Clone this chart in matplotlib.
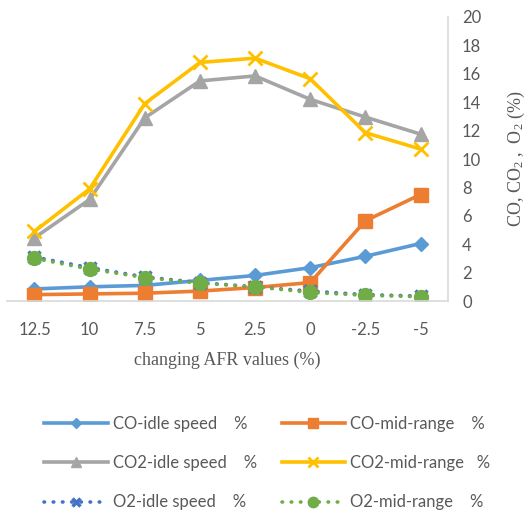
import numpy as np
import matplotlib
matplotlib.use("Agg")
import matplotlib.pyplot as plt

plt.rcParams['mathtext.fontset'] = 'custom'
plt.rcParams['mathtext.rm'] = 'Liberation Serif'
plt.rcParams['mathtext.it'] = 'Liberation Serif:italic'

# AFR change categories (%)
afr_labels = ["12.5", "10", "7.5", "5", "2.5", "0", "-2.5", "-5"]

co_idle = [0.85, 1.0, 1.1, 1.45, 1.8, 2.35, 3.15, 4.05]
co_mid = [0.45, 0.5, 0.55, 0.7, 0.95, 1.3, 5.65, 7.5]
co2_idle = [4.45, 7.15, 12.9, 15.5, 15.85, 14.2, 12.95, 11.75]
co2_mid = [4.9, 7.9, 13.9, 16.8, 17.1, 15.65, 11.85, 10.7]
o2_idle = [3.1, 2.35, 1.7, 1.3, 1.0, 0.7, 0.45, 0.35]
o2_mid = [3.0, 2.25, 1.65, 1.25, 1.0, 0.6, 0.4, 0.3]

txt_gray = "#595959"
axis_gray = "#D9D9D9"
tick_font = "Lato"
dots = (0, (0.15, 2.4))

fig = plt.figure(figsize=(5.31, 5.15), dpi=100)
ax = fig.add_axes([0.013, 0.4155, 0.831, 0.5515])

x = np.arange(len(afr_labels))

ax.plot(x, co_idle, color="#5B9BD5", lw=2.6, marker="D", ms=7,
        label="CO-idle speed    %")
ax.plot(x, co_mid, color="#ED7D31", lw=2.6, marker="s", ms=10,
        label="CO-mid-range    %")
ax.plot(x, co2_idle, color="#A5A5A5", lw=2.6, marker="^", ms=10,
        label="CO2-idle speed    %")
ax.plot(x, co2_mid, color="#FFC000", lw=2.6, marker="x", ms=10, mew=2,
        label="CO2-mid-range   %")
ax.plot(x, o2_idle, color="#4472C4", lw=2.6, ls=dots,
        dash_capstyle="round", marker="x", ms=8, mew=2.5,
        label="O2-idle speed    %")
ax.plot(x, o2_mid, color="#70AD47", lw=2.6, ls=dots,
        dash_capstyle="round", marker="o", ms=10,
        label="O2-mid-range    %")

ax.set_xlim(-0.5, 7.5)
ax.set_ylim(0, 20)
ax.set_yticks(np.arange(0, 21, 2))
ax.set_xticks(x)
ax.set_xticklabels(afr_labels, fontsize=12, color=txt_gray, family=tick_font)
ax.yaxis.tick_right()
ax.yaxis.set_label_position("right")
for lbl in ax.get_yticklabels():
    lbl.set_fontsize(12)
    lbl.set_color(txt_gray)
    lbl.set_family(tick_font)
ax.tick_params(axis="both", length=0)
ax.tick_params(axis="x", pad=15)
ax.tick_params(axis="y", pad=10)

for side in ["top", "left"]:
    ax.spines[side].set_visible(False)
ax.spines["right"].set_color(axis_gray)
ax.spines["bottom"].set_color(axis_gray)
ax.spines["right"].set_linewidth(1.2)
ax.spines["bottom"].set_linewidth(1.2)

ax.set_ylabel("CO, CO$_2$ ,  O$_2$ (%)", family="Liberation Serif",
              fontsize=13, color=txt_gray, labelpad=18)
ax.set_xlabel("changing AFR values (%)", family="Liberation Serif",
              fontsize=13, color=txt_gray, labelpad=10)

# legend: two columns, filled column by column
h, l = ax.get_legend_handles_labels()
order = [0, 2, 4, 1, 3, 5]
leg = fig.legend([h[i] for i in order], [l[i] for i in order],
                 ncol=2, loc="upper left", bbox_to_anchor=(0.055, 0.222),
                 frameon=False, handlelength=3.8, handletextpad=0.3,
                 columnspacing=1.5, labelspacing=1.4, markerscale=0.75,
                 prop={"family": tick_font, "size": 12})
for t in leg.get_texts():
    t.set_color(txt_gray)

fig.savefig("out.png", dpi=100)
